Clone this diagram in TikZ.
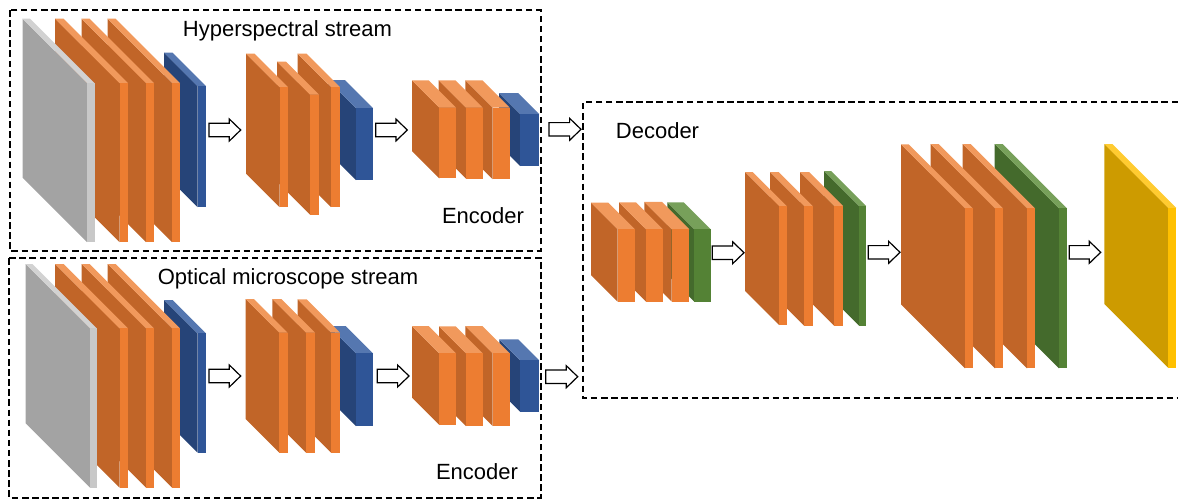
\documentclass[tikz,border=0pt]{standalone}
\usepackage{fontspec}
\setmainfont{Liberation Sans}
\definecolor{orS}{HTML}{C16528}
\definecolor{orF}{HTML}{ED7D31}
\definecolor{orT}{HTML}{F1995C}
\definecolor{grS}{HTML}{A3A3A3}
\definecolor{grF}{HTML}{C8C8C8}
\definecolor{grT}{HTML}{D2D2D2}
\definecolor{blS}{HTML}{264478}
\definecolor{blF}{HTML}{2F5597}
\definecolor{blT}{HTML}{5577B0}
\definecolor{gnS}{HTML}{446A2C}
\definecolor{gnF}{HTML}{548235}
\definecolor{gnT}{HTML}{77A05A}
\definecolor{ylS}{HTML}{CD9B00}
\definecolor{ylF}{HTML}{FFC000}
\definecolor{ylT}{HTML}{FFCB30}
% fx, w, ty, h, d, colour prefix
\newcommand{\myslab}[6]{%
  \fill[#6S] (#1,#3) -- ++(-#5,-#5) -- ++(0,#4) -- ++(#5,#5) -- cycle;
  \fill[#6T] (#1,#3) -- ++(-#5,-#5) -- ++(#2,0) -- ++(#5,#5) -- cycle;
  \fill[#6F] (#1,#3) rectangle ++(#2,#4);
}
% tail x, tip x, centre y
\newcommand{\blockarrow}[3]{%
  \draw[blockarr] (#1,#3-6.7) -- (#2-11.4,#3-6.7) -- (#2-11.4,#3-11) -- (#2,#3)
    -- (#2-11.4,#3+11) -- (#2-11.4,#3+6.7) -- (#1,#3+6.7) -- cycle;
}
\tikzset{
  dashbox/.style={draw=black, line width=2pt, dash pattern=on 6.5pt off 3.6pt},
  blockarr/.style={draw=black, fill=white, line width=1.2pt, line join=miter},
  label/.style={font=\fontsize{22}{26}\selectfont, anchor=base, inner sep=0pt}
}
\begin{document}
\begin{tikzpicture}[x=1pt,y=-1pt]
\useasboundingbox (0,0) rectangle (1178,499);
% dashed frames
\draw[dashbox] (9.5,10) rectangle (540.5,250.5);
\draw[dashbox] (9,258) rectangle (540.5,497.5);
\draw[dashbox] (1178,102) -- (583,102) -- (583,398) -- (1178,398);
% ---------- Hyperspectral stream ----------
\myslab{197.5}{8.5}{86}{121}{33.5}{bl}
\myslab{172}{8}{83}{159}{64.5}{or}
\myslab{146}{8}{83}{159}{64.5}{or}
\myslab{119.5}{8.5}{83}{159}{64.5}{or}
\myslab{87}{7.5}{83}{159}{64.5}{gr}
\myslab{356}{17}{108}{72}{28}{bl}
\myslab{331}{9}{87}{120}{33.5}{or}
\myslab{310}{9}{94.5}{120}{33}{or}
\myslab{279.5}{8.5}{87}{120}{33.5}{or}
\myslab{520}{19}{114}{52}{21}{bl}
\myslab{492.7}{17}{107.7}{71.5}{27.3}{or}
\myslab{466}{16.7}{107.7}{71}{27.3}{or}
\myslab{439.3}{16.7}{107.7}{70.7}{27.3}{or}
% ---------- Optical microscope stream ----------
\myslab{197.5}{8.5}{333.3}{119.4}{33.3}{bl}
\myslab{172}{8}{328.3}{159.4}{64.3}{or}
\myslab{146}{8}{328.3}{159.4}{64.3}{or}
\myslab{119.5}{8.5}{328.3}{159.4}{64.3}{or}
\myslab{90}{6.7}{328.3}{159.4}{64.3}{gr}
\myslab{356}{17}{353.3}{72.7}{27.3}{bl}
\myslab{331}{9}{332.7}{120}{33.3}{or}
\myslab{306}{9}{332.7}{120}{33.7}{or}
\myslab{279.3}{8.4}{332.7}{120}{33.6}{or}
\myslab{520}{19}{360}{51.7}{20.7}{bl}
\myslab{492.7}{17}{353.3}{72.7}{27.3}{or}
\myslab{466}{16.7}{353.3}{72.7}{27}{or}
\myslab{439.3}{16.7}{353.3}{71.7}{27.3}{or}
% ---------- Decoder ----------
\myslab{694.3}{16.4}{229.3}{72.4}{27}{gn}
\myslab{671.7}{17.6}{229.3}{72.4}{27.4}{or}
\myslab{646}{17}{229.3}{72.4}{27}{or}
\myslab{617.7}{17.3}{229.3}{72.4}{26.7}{or}
\myslab{859}{7}{206}{119.7}{35}{gn}
\myslab{834}{9}{206}{119.7}{34}{or}
\myslab{804}{8.7}{206}{119.7}{34}{or}
\myslab{779}{7.7}{206}{119}{34}{or}
\myslab{1168.3}{8}{208}{160}{64}{yl}
\myslab{1059}{8}{208.3}{160}{64.3}{gn}
\myslab{1027}{8}{208.3}{160}{64.3}{or}
\myslab{995}{8}{208.3}{160}{64.3}{or}
\myslab{965}{7.7}{208.3}{160}{64}{or}
% ---------- arrows ----------
\blockarrow{209}{240.7}{130}
\blockarrow{375.7}{407.3}{130}
\blockarrow{549}{581}{129.3}
\blockarrow{209}{240.7}{376}
\blockarrow{377.3}{409}{376}
\blockarrow{545.7}{577.7}{376.7}
\blockarrow{712.3}{744}{252.7}
\blockarrow{868.3}{900}{252.3}
\blockarrow{1069.3}{1100.7}{252.3}
% ---------- labels ----------
\node[label] (hs) at (287.5,36.5) {Hyperspectral stream};
\node[label] (enc1) at (483,223.3) {Encoder};
\node[label] (os) at (288,284) {Optical microscope stream};
\node[label] (enc2) at (477,479) {Encoder};
\node[label] (dec) at (657.5,138) {Decoder};
\end{tikzpicture}
\end{document}
